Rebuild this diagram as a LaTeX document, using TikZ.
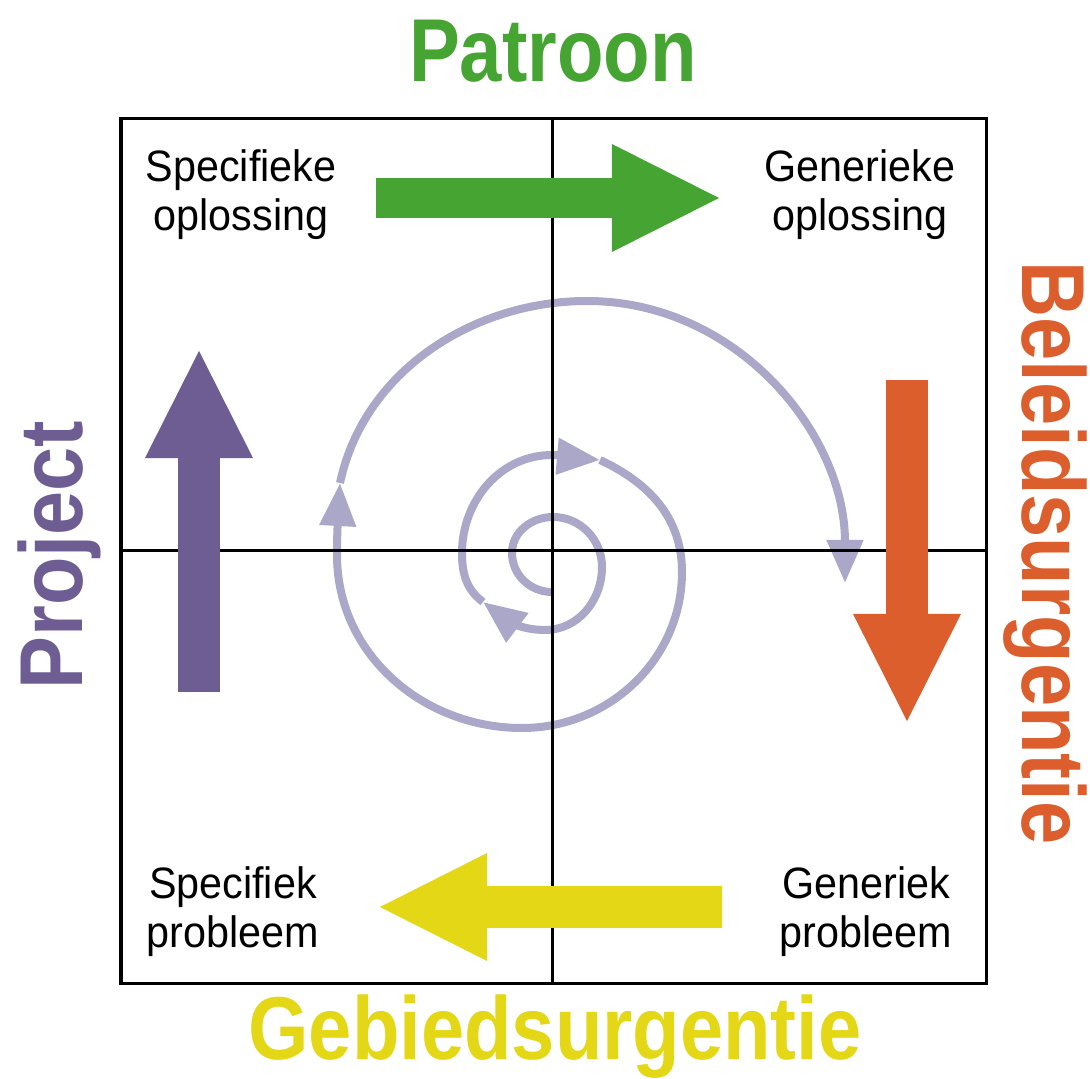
\documentclass[tikz,border=0pt]{standalone}
\usepackage{fontspec}
\setmainfont{Liberation Sans}
\newfontfamily\labelfont{Liberation Sans}[FakeStretch=0.94]
\newfontfamily\titlefont{Liberation Sans}[FakeStretch=0.87]
\usetikzlibrary{arrows.meta}

\definecolor{patroongreen}{RGB}{70,164,50}
\definecolor{projectpurple}{RGB}{109,93,147}
\definecolor{beleidorange}{RGB}{221,94,45}
\definecolor{gebiedyellow}{RGB}{227,215,22}
\definecolor{spiralpurple}{RGB}{171,167,201}

\begin{document}
\begin{tikzpicture}[x=0.01cm, y=0.01cm,
  gridline/.style={line width=0.03cm, black},
  bigarrow/.style={line width=0.41cm, -{Triangle[length=1.1cm,width=0.99cm]}},
  spiralseg/.style={spiralpurple, line width=0.08cm, -{Triangle[length=0.43cm,width=0.35cm]}},
  cornertext/.style={font=\labelfont\fontsize{12.5}{14}\selectfont, align=center, inner sep=0pt},
  title/.style={font=\titlefont\bfseries\fontsize{25.4}{28}\selectfont, inner sep=0pt, anchor=base}]

\useasboundingbox (0,0) rectangle (1090,-1079);

% spiral running outwards, clockwise
\draw[spiralseg] (552,-592) to[out=180,in=270] (512,-553) to[out=90,in=180] (553,-517)
  to[out=0,in=90] (602,-567) to[out=270,in=0] (545,-630) to[out=180,in=-37] (483,-602);
\draw[spiralseg] (483,-602) to[out=143,in=270] (462,-553) to[out=90,in=180] (552,-455)
  to[out=0,in=175] (600,-460);
\draw[spiralseg] (600,-460) to[out=-25,in=90] (682,-572) to[out=270,in=0] (522,-728)
  to[out=180,in=270] (337,-555) to[out=90,in=267] (340,-483);
\draw[spiralseg] (340,-483) to[out=78,in=180,looseness=0.95] (587,-301)
  to[out=0,in=90] (845,-583);

% quadrant frame
\draw[gridline] (121,-119) rectangle (986,-983);
\draw[gridline] (552,-119) -- (552,-983);
\draw[gridline] (121,-551) -- (986,-551);

% the four big arrows
\draw[bigarrow, patroongreen, line width=0.39cm] (376,-198) -- (722,-198);
\draw[bigarrow, beleidorange] (907,-380) -- (907,-724);
\draw[bigarrow, gebiedyellow] (722,-907) -- (377,-907);
\draw[bigarrow, projectpurple] (199,-692) -- (199,-348);

% corner labels
\node[cornertext] (specopl) at (241,-195) {Specifieke\\oplossing};
\node[cornertext] (genopl) at (860,-195) {Generieke\\oplossing};
\node[cornertext] (specprob) at (233,-912) {Specifiek\\probleem};
\node[cornertext] (genprob) at (866,-912) {Generiek\\probleem};

% side titles
\node[title, text=patroongreen] (patroon) at (553,-82) {\scalebox{0.98}[1]{Patroon}};
\node[title, text=gebiedyellow] (gebied) at (555,-1059) {Gebiedsurgentie};
\node[title, text=projectpurple, rotate=90] (project) at (83,-555) {\scalebox{1.02}[1]{Project}};
\node[title, text=beleidorange, rotate=-90] (beleid) at (1022,-553) {Beleidsurgentie};

\end{tikzpicture}
\end{document}
